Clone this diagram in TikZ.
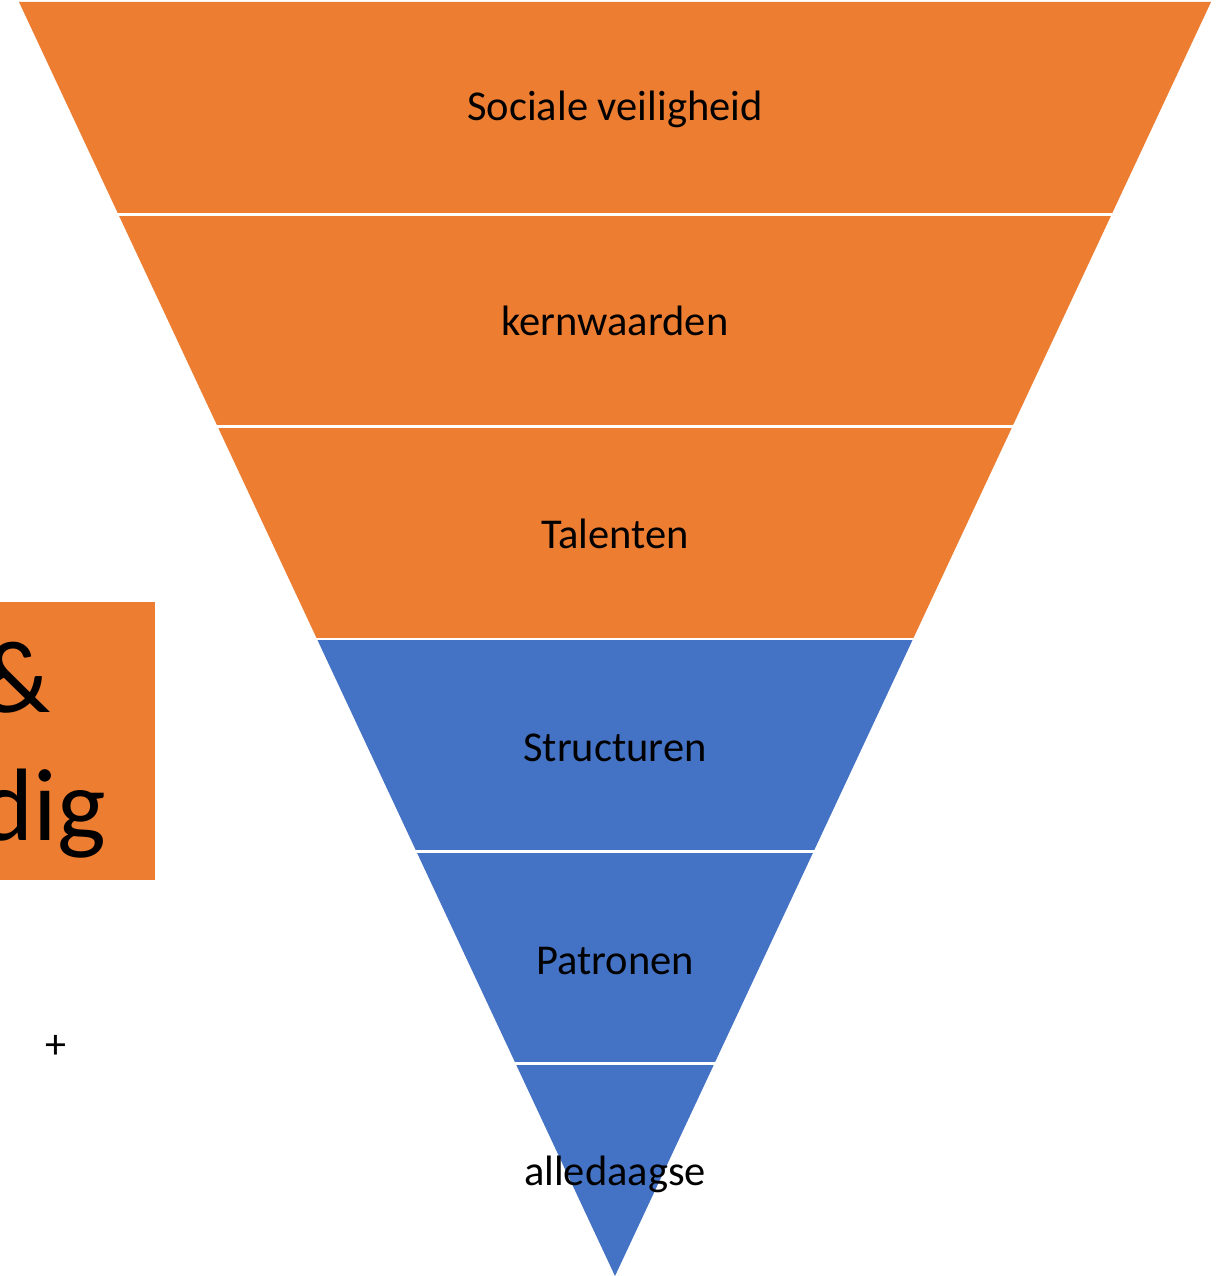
\documentclass[tikz,border=0pt]{standalone}
\usepackage{fontspec}
\setmainfont{Carlito}
\definecolor{offorange}{HTML}{ED7D31}
\definecolor{offblue}{HTML}{4472C4}
\begin{document}
\begin{tikzpicture}[x=1pt,y=-1pt,
  lbl/.style={font=\fontsize{42.5}{50}\selectfont,text=black,inner sep=0pt}]
\useasboundingbox (0,0) rectangle (1223,1276);
% geometry: top y=2, apex (615,1276); half width at top 596
\def\topy{2}
\def\bh{212.33}
\def\sl{0.46782}
\foreach \i/\col in {0/offorange,1/offorange,2/offorange,3/offblue,4/offblue} {
  \pgfmathsetmacro{\ya}{\topy+\i*\bh}
  \pgfmathsetmacro{\yb}{\topy+(\i+1)*\bh}
  \pgfmathsetmacro{\wa}{\sl*(1276-\ya)}
  \pgfmathsetmacro{\wb}{\sl*(1276-\yb)}
  \fill[\col] (615-\wa,\ya) -- (615+\wa,\ya) -- (615+\wb,\yb) -- (615-\wb,\yb) -- cycle;
}
\pgfmathsetmacro{\ya}{\topy+5*\bh}
\pgfmathsetmacro{\wa}{\sl*(1276-\ya)}
\fill[offblue] (615-\wa,\ya) -- (615+\wa,\ya) -- (615,1276) -- cycle;
% white separators
\foreach \i in {1,...,5} {
  \pgfmathsetmacro{\ya}{\topy+\i*\bh}
  \pgfmathsetmacro{\wa}{\sl*(1276-\ya)}
  \draw[white,line width=2.5pt] (615-\wa-3,\ya) -- (615+\wa+3,\ya);
}
% labels
\node[lbl] (l1) at (615,109) {Sociale veiligheid};
\node[lbl] (l2) at (615,321) {kernwaarden};
\node[lbl] (l3) at (615,534) {Talenten};
\node[lbl] (l4) at (615,748) {Structuren};
\node[lbl] (l5) at (615,961) {Patronen};
\node[lbl] (l6) at (615,1174) {alledaagse};
% left box
\fill[offorange] (-10,602) rectangle (155,880);
\node[anchor=base east,inner sep=0pt,font=\fontsize{103}{124}\selectfont] (amp) at (51,712) {\&};
\node[anchor=base east,inner sep=0pt,font=\fontsize{103}{124}\selectfont] (dig) at (106,840) {dig};
\node[font=\fontsize{42}{50}\selectfont,inner sep=0pt] (plus) at (56,1047) {+};
\end{tikzpicture}
\end{document}
